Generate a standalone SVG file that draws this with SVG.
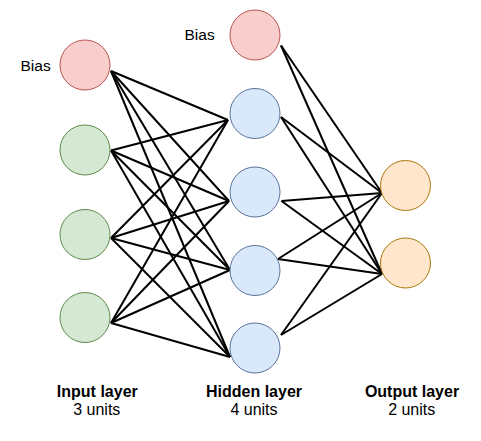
<svg xmlns="http://www.w3.org/2000/svg" width="481" height="441" viewBox="0 0 481 441">
<style>
.bias{fill:#f8cecc;stroke:#b85450;stroke-width:1}
.inp{fill:#d5e8d4;stroke:#5f8a4a;stroke-width:1}
.hid{fill:#dae8fc;stroke:#5a7399;stroke-width:1}
.out{fill:#ffe6cc;stroke:#a8780a;stroke-width:1}
.edges line{stroke:#000;stroke-width:2}
text{font-family:"Liberation Sans",Arial,Helvetica,sans-serif;fill:#000}
.lbl{font-size:15.5px}
.t{font-size:16px;font-weight:bold;text-anchor:middle}
.s{font-size:16px;text-anchor:middle}
</style>
<rect width="481" height="441" fill="#fff"/>
<g class="edges" id="connectors">
<line x1="111" y1="71" x2="228" y2="120"/>
<line x1="111" y1="71" x2="229" y2="201"/>
<line x1="111" y1="71" x2="230" y2="270"/>
<line x1="111" y1="71" x2="230" y2="357"/>
<line x1="111" y1="150.5" x2="228" y2="120"/>
<line x1="111" y1="150.5" x2="229" y2="201"/>
<line x1="111" y1="150.5" x2="230" y2="270"/>
<line x1="111" y1="150.5" x2="230" y2="357"/>
<line x1="111" y1="238" x2="228" y2="120"/>
<line x1="111" y1="238" x2="229" y2="201"/>
<line x1="111" y1="238" x2="230" y2="270"/>
<line x1="111" y1="238" x2="230" y2="357"/>
<line x1="111" y1="323" x2="228" y2="120"/>
<line x1="111" y1="323" x2="229" y2="201"/>
<line x1="111" y1="323" x2="230" y2="270"/>
<line x1="111" y1="323" x2="230" y2="357"/>
<line x1="281" y1="45.5" x2="382" y2="193"/>
<line x1="281" y1="45.5" x2="382" y2="274"/>
<line x1="281" y1="117" x2="382" y2="193"/>
<line x1="281" y1="117" x2="382" y2="274"/>
<line x1="281.5" y1="201" x2="382" y2="193"/>
<line x1="281.5" y1="201" x2="382" y2="274"/>
<line x1="278" y1="259" x2="382" y2="193"/>
<line x1="278" y1="259" x2="382" y2="274"/>
<line x1="281" y1="335" x2="382" y2="193"/>
<line x1="281" y1="335" x2="382" y2="274"/>
</g>
<g id="input-bias"><circle class="bias" cx="85" cy="65" r="25"/></g>
<g id="input-1"><circle class="inp" cx="85" cy="150" r="25"/></g>
<g id="input-2"><circle class="inp" cx="85" cy="234.5" r="25"/></g>
<g id="input-3"><circle class="inp" cx="85" cy="317.5" r="25"/></g>
<g id="hidden-bias"><circle class="bias" cx="255" cy="35" r="25"/></g>
<g id="hidden-1"><circle class="hid" cx="255" cy="113.5" r="25"/></g>
<g id="hidden-2"><circle class="hid" cx="255" cy="192" r="25"/></g>
<g id="hidden-3"><circle class="hid" cx="255" cy="270.5" r="25"/></g>
<g id="hidden-4"><circle class="hid" cx="255" cy="348" r="25"/></g>
<g id="output-1"><circle class="out" cx="405.5" cy="185.5" r="25"/></g>
<g id="output-2"><circle class="out" cx="405.5" cy="263" r="25"/></g>
<g id="label-bias-input"><text class="lbl" x="20.5" y="70.5">Bias</text></g>
<g id="label-bias-hidden"><text class="lbl" x="184.5" y="39.8">Bias</text></g>
<g id="label-input"><text class="t" x="97.3" y="396.7">Input layer</text><text class="s" x="96.8" y="415">3 units</text></g>
<g id="label-hidden"><text class="t" x="254" y="396.7">Hidden layer</text><text class="s" x="254" y="415">4 units</text></g>
<g id="label-output"><text class="t" x="412" y="396.7">Output layer</text><text class="s" x="411.7" y="415">2 units</text></g>
</svg>
